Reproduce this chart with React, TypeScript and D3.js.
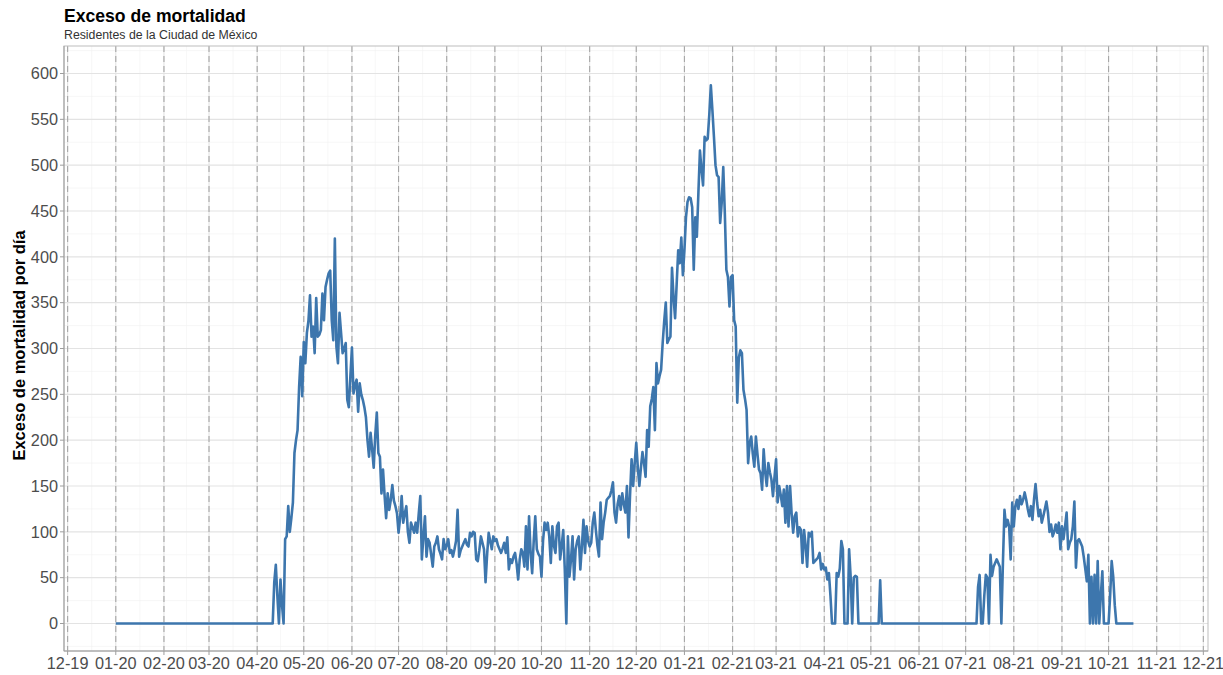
import React, { useEffect } from "react";
import * as d3 from "d3";

// Exceso de mortalidad diario, residentes de CDMX (lectura aproximada de la gráfica)
const firstDay2020 = "2020-01-01";
const values2020: number[] = [
  0, 0, 0, 0, 0, 0, 0, 0, 0, 0,
  0, 0, 0, 0, 0, 0, 0, 0, 0, 0,
  0, 0, 0, 0, 0, 0, 0, 0, 0, 0,
  0, 0, 0, 0, 0, 0, 0, 0, 0, 0,
  0, 0, 0, 0, 0, 0, 0, 0, 0, 0,
  0, 0, 0, 0, 0, 0, 0, 0, 0, 0,
  0, 0, 0, 0, 0, 0, 0, 0, 0, 0,
  0, 0, 0, 0, 0, 0, 0, 0, 0, 0,
  0, 0, 0, 0, 0, 0, 0, 0, 0, 0,
  0, 0, 0, 0, 0, 0, 0, 0, 0, 0,
  0, 0, 45, 64, 30, 0, 48, 20, 0, 92,
  95, 128, 100, 115, 132, 186, 200, 211, 258, 291,
  248, 307, 284, 317, 330, 358, 313, 324, 295, 355,
  313, 315, 320, 360, 331, 367, 375, 382, 385, 331,
  309, 420, 302, 284, 339, 317, 295, 300, 306, 244,
  236, 270, 301, 251, 260, 266, 231, 262, 250, 244,
  236, 225, 200, 182, 208, 190, 170, 205, 230, 186,
  182, 142, 168, 140, 115, 142, 124, 135, 151, 134,
  128, 120, 99, 115, 139, 110, 120, 128, 100, 88,
  110, 105, 99, 110, 99, 120, 139, 70, 95, 117,
  73, 92, 88, 75, 62, 84, 88, 95, 81, 76,
  70, 92, 81, 85, 92, 77, 80, 73, 81, 90,
  124, 73, 80, 84, 88, 92, 86, 84, 99, 95,
  100, 99, 70, 68, 80, 95, 88, 81, 45, 75,
  99, 90, 81, 95, 90, 92, 85, 81, 77, 82,
  88, 77, 94, 59, 70, 66, 73, 77, 65, 48,
  70, 81, 77, 62, 106, 59, 117, 77, 55, 90,
  117, 81, 76, 73, 51, 90, 110, 102, 110, 95,
  66, 106, 85, 77, 106, 110, 70, 85, 102, 59,
  0, 95, 51, 70, 95, 48, 81, 90, 95, 59,
  84, 113, 77, 106, 90, 84, 88, 110, 121, 102,
  85, 73, 132, 92, 110, 121, 135, 137, 139, 145,
  154, 121, 110, 130, 139, 124, 142, 130, 121, 150,
  94, 140, 179, 150, 175, 197, 170, 150, 170, 187,
  175, 160, 211, 193, 237, 245, 258, 211, 284, 262,
  270, 277, 306, 330, 350, 306, 310, 313, 388, 356,
  333, 370, 407, 393, 421, 380,
];

const firstDay2021 = "2021-01-01";
const values2021: number[] = [
  407, 443, 460, 465, 464, 454, 386, 443, 422, 470,
  516, 495, 478, 531, 527, 529, 555, 587, 560, 531,
  500, 489, 487, 437, 459, 498, 448, 386, 378, 346,
  378, 380, 331, 324, 241, 290, 298, 295, 255, 245,
  233, 175, 197, 204, 185, 171, 204, 185, 168, 164,
  146, 190, 165, 150, 175, 165, 157, 139, 160, 179,
  132, 150, 140, 128, 146, 110, 150, 106, 150, 120,
  99, 117, 121, 95, 105, 102, 66, 102, 85, 62,
  99, 95, 100, 66, 68, 70, 72, 77, 59, 65,
  59, 61, 48, 55, 30, 0, 0, 0, 55, 51,
  60, 90, 81, 0, 0, 0, 81, 51, 0, 50,
  52, 51, 0, 0, 0, 0, 0, 0, 0, 0,
  0, 0, 0, 0, 0, 0, 47, 0, 0, 0,
  0, 0, 0, 0, 0, 0, 0, 0, 0, 0,
  0, 0, 0, 0, 0, 0, 0, 0, 0, 0,
  0, 0, 0, 0, 0, 0, 0, 0, 0, 0,
  0, 0, 0, 0, 0, 0, 0, 0, 0, 0,
  0, 0, 0, 0, 0, 0, 0, 0, 0, 0,
  0, 0, 0, 0, 0, 0, 0, 0, 0, 40,
  53, 0, 0, 30, 53, 50, 0, 75, 52, 62,
  66, 70, 66, 62, 0, 66, 124, 106, 113, 106,
  70, 132, 106, 128, 135, 125, 139, 130, 135, 143,
  135, 125, 117, 128, 113, 135, 152, 132, 117, 124,
  110, 117, 125, 133, 121, 100, 108, 95, 100, 108,
  99, 110, 81, 106, 92, 106, 121, 81, 88, 92,
  106, 133, 61, 90, 92, 88, 84, 73, 60, 46,
  75, 0, 51, 0, 53, 0, 68, 0, 30, 57,
  0, 0, 0, 0, 30, 68, 51, 20, 0, 0,
  0, 0, 0, 0, 0, 0, 0, 0, 0, 0,
];

const yTicks = [0, 50, 100, 150, 200, 250, 300, 350, 400, 450, 500, 550, 600];
const yMinor = [-25, 25, 75, 125, 175, 225, 275, 325, 375, 425, 475, 525, 575, 625];

const title = "Exceso de mortalidad";
const subtitle = "Residentes de la Ciudad de México";
const yTitle = "Exceso de mortalidad por día";

const font = "'Liberation Sans', Arial, Helvetica, sans-serif";

const panel = { left: 64, right: 1208, top: 46, bottom: 651 };

export default function App() {
  useEffect(() => {
    document.body.style.margin = "0";
  }, []);

  const parse = d3.utcParse("%Y-%m-%d");

  const series = [
    ...values2020.map((v, i) => ({ date: d3.utcDay.offset(parse(firstDay2020)!, i), value: v })),
    ...values2021.map((v, i) => ({ date: d3.utcDay.offset(parse(firstDay2021)!, i), value: v })),
  ];

  const x = d3.scaleUtc()
    .domain([new Date(Date.UTC(2019, 10, 28, 16)), new Date(Date.UTC(2021, 11, 4))])
    .range([panel.left, panel.right]);

  const y = d3.scaleLinear()
    .domain([-30, 630])
    .range([panel.bottom, panel.top]);

  const months = d3.utcMonth.range(new Date(Date.UTC(2019, 11, 1)), new Date(Date.UTC(2021, 11, 2)));
  const minorX = months.slice(1).map((m, i) => new Date((m.getTime() + months[i].getTime()) / 2));
  const fmt = d3.utcFormat("%m-%y");

  const line = d3.line<{ date: Date; value: number }>()
    .x(d => x(d.date))
    .y(d => y(d.value));

  return (
    <svg width={1223} height={675} style={{ display: "block", background: "#fff" }}>
      {/* titles */}
      <text x={64} y={22} fontFamily={font} fontWeight="bold" fontSize={17.6} fill="#000">{title}</text>
      <text x={64} y={38.5} fontFamily={font} fontSize={12.3} fill="#333">{subtitle}</text>

      {/* grid */}
      <g>
        {yMinor.map(v => (
          <line key={"ym" + v} x1={panel.left} x2={panel.right} y1={y(v)} y2={y(v)} stroke="#f1f1f1" strokeWidth={0.6} />
        ))}
        {minorX.map((d, i) => (
          <line key={"xm" + i} x1={x(d)} x2={x(d)} y1={panel.top} y2={panel.bottom} stroke="#f1f1f1" strokeWidth={0.6} />
        ))}
        {yTicks.map(v => (
          <line key={"y" + v} x1={panel.left} x2={panel.right} y1={y(v)} y2={y(v)} stroke="#e3e3e3" strokeWidth={1.1} />
        ))}
        {months.map((d, i) => (
          <line key={"x" + i} x1={x(d)} x2={x(d)} y1={panel.top} y2={panel.bottom} stroke="#e3e3e3" strokeWidth={1.1} />
        ))}
      </g>

      {/* month separators */}
      <g>
        {months.map((d, i) => (
          <line key={"v" + i} x1={x(d)} x2={x(d)} y1={panel.top} y2={panel.bottom}
            stroke="#a6a6a6" strokeWidth={1.1} strokeDasharray="6,4" />
        ))}
      </g>

      {/* series */}
      <path d={line(series) || ""} fill="none" stroke="#3d76ad" strokeWidth={2.6} strokeLinejoin="round" />

      {/* panel border */}
      <rect x={panel.left} y={panel.top} width={panel.right - panel.left} height={panel.bottom - panel.top}
        fill="none" stroke="#bdbdbd" strokeWidth={1} />
      <line x1={panel.left} x2={panel.left} y1={panel.top} y2={panel.bottom} stroke="#9e9e9e" strokeWidth={1} />
      <line x1={panel.left} x2={panel.right} y1={panel.bottom} y2={panel.bottom} stroke="#9e9e9e" strokeWidth={1} />

      {/* y axis */}
      <g>
        {yTicks.map(v => (
          <g key={"yt" + v}>
            <line x1={panel.left - 4} x2={panel.left} y1={y(v)} y2={y(v)} stroke="#9e9e9e" />
            <text x={panel.left - 6} y={y(v)} dy="0.35em" textAnchor="end" fontFamily={font} fontSize={16.3} fill="#4d4d4d">{v}</text>
          </g>
        ))}
      </g>

      {/* x axis */}
      <g>
        {months.map((d, i) => (
          <g key={"xt" + i}>
            <line x1={x(d)} x2={x(d)} y1={panel.bottom} y2={panel.bottom + 4} stroke="#9e9e9e" />
            <text x={x(d)} y={668.5} textAnchor="middle" fontFamily={font} fontSize={16.3} fill="#4d4d4d">{fmt(d)}</text>
          </g>
        ))}
      </g>

      <text transform={`translate(25,${(panel.top + panel.bottom) / 2 - 3}) rotate(-90)`} textAnchor="middle"
        fontFamily={font} fontWeight="bold" fontSize={16.5} fill="#000">{yTitle}</text>
    </svg>
  );
}
